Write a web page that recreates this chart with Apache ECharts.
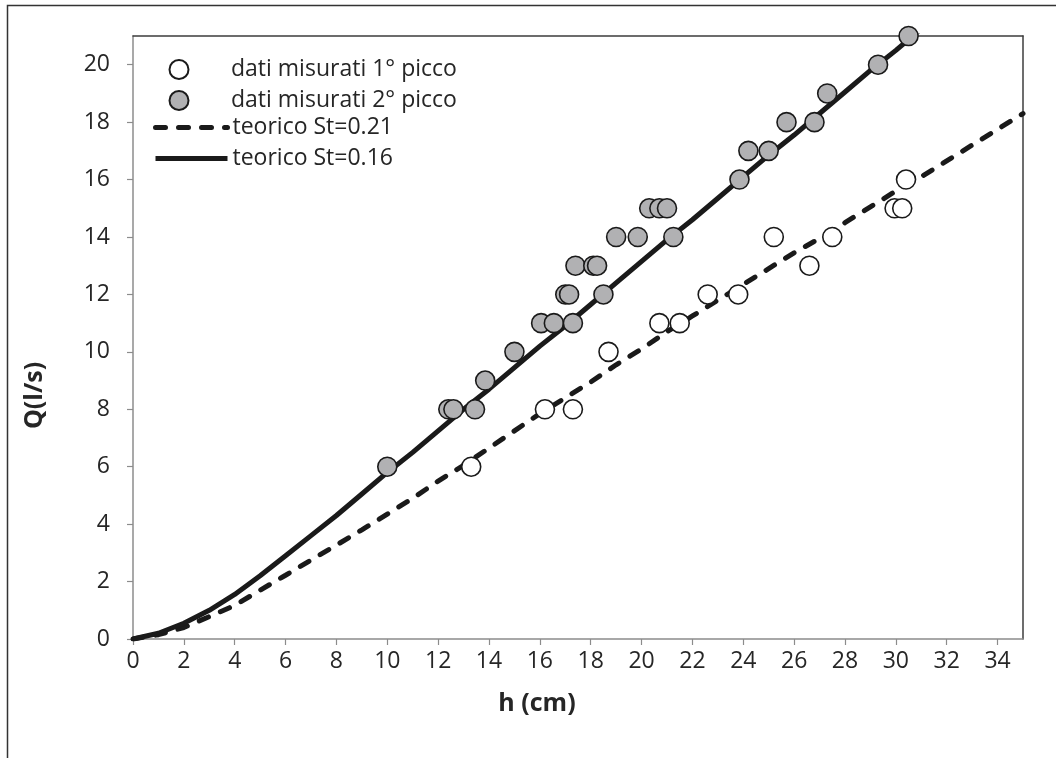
<!DOCTYPE html>
<html>
<head>
<meta charset="utf-8">
<script src="https://cdn.jsdelivr.net/npm/echarts@6/dist/echarts.min.js"></script>
<style>
  html, body { margin: 0; padding: 0; background: #ffffff; }
  #chart { width: 1056px; height: 758px; }
</style>
</head>
<body>
<div id="chart"></div>
<script>
// Measured discharge, first peak: water height h (cm) and flow Q (l/s)
const peak1H = [13.3, 16.2, 17.3, 18.7, 20.7, 21.5, 22.6, 23.8, 25.2, 26.6, 27.5, 29.95, 30.25, 30.4];
const peak1Q = [6, 8, 8, 10, 11, 11, 12, 12, 14, 13, 14, 15, 15, 16];

// Measured discharge, second peak
const peak2H = [10.0, 12.4, 12.6, 13.45, 13.85, 15.0, 16.05, 16.55, 17.3, 17.0, 17.15, 18.5, 17.4, 18.1, 18.25,
                19.0, 19.85, 21.25, 20.3, 20.7, 21.0, 23.85, 24.2, 25.0, 25.7, 26.8, 27.3, 29.3, 30.5];
const peak2Q = [6, 8, 8, 8, 9, 10, 11, 11, 11, 12, 12, 12, 13, 13, 13,
                14, 14, 14, 15, 15, 15, 16, 17, 17, 18, 18, 19, 20, 21];

// Theoretical curves sampled every centimetre
const curveH = [0, 1, 2, 3, 4, 5, 6, 7, 8, 9, 10, 11, 12, 13, 14, 15, 16, 17, 18,
                19, 20, 21, 22, 23, 24, 25, 26, 27, 28, 29, 30, 31, 32, 33, 34, 35];
const st021Q = [0, 0.15, 0.4, 0.78, 1.17, 1.7, 2.22, 2.75, 3.27, 3.8, 4.35, 4.9, 5.5, 6.05, 6.65, 7.25, 7.85, 8.4, 8.95,
                9.55, 10.1, 10.7, 11.25, 11.8, 12.35, 12.9, 13.45, 13.95, 14.5, 15.05, 15.6, 16.1, 16.65, 17.2, 17.75, 18.3];
const st016Q = [0, 0.2, 0.55, 1.0, 1.55, 2.2, 2.9, 3.6, 4.3, 5.05, 5.8, 6.5, 7.25, 8.0, 8.7, 9.45, 10.2, 10.9, 11.65,
                12.4, 13.15, 13.9, 14.6, 15.35, 16.1, 16.85, 17.55, 18.3, 19.05, 19.8, 20.5, 21.25];

// Tick positions
const xTicks = [0, 2, 4, 6, 8, 10, 12, 14, 16, 18, 20, 22, 24, 26, 28, 30, 32, 34];
const yTicks = [0, 2, 4, 6, 8, 10, 12, 14, 16, 18, 20];

const names = {
  p1: 'dati misurati 1° picco',
  p2: 'dati misurati 2° picco',
  c21: 'teorico St=0.21',
  c16: 'teorico St=0.16'
};

const pairs = (xs, ys) => ys.map((y, i) => [xs[i], y]);

const FONT = '"Open Sans"';
const TEXT = '#262626';
const AXIS_GREY = '#8c8c8c';
const FRAME = '#3c3c3c';
const INK = '#1a1a1a';

const chart = echarts.init(document.getElementById('chart'), null, { renderer: 'canvas' });

const labelStyle = { color: TEXT, fontFamily: FONT, fontSize: 23 };
const legendText = { color: TEXT, fontFamily: FONT, fontSize: 23, lineHeight: 19 };
const titleStyle = { color: TEXT, fontFamily: FONT, fontSize: 25, fontWeight: 'bold' };

chart.setOption({
  animation: false,
  backgroundColor: '#ffffff',
  textStyle: { fontFamily: FONT },
  graphic: [{
    type: 'rect',
    silent: true,
    z: -10,
    shape: { x: 7.5, y: 5.5, width: 1200, height: 900 },
    style: { fill: 'none', stroke: '#333333', lineWidth: 1.5 }
  }],
  grid: { left: 133, right: 33, top: 36, bottom: 119, containLabel: false },
  legend: [{
    // marker legend: square icon box, label pushed right to line up with the curve labels
    orient: 'vertical',
    left: 168.5, top: 58, padding: 0,
    itemWidth: 19, itemHeight: 19, itemGap: 8,
    data: [names.p1, names.p2],
    textStyle: Object.assign({ padding: [0, 0, 0, 37.5] }, legendText),
    selectedMode: false
  }, {
    orient: 'vertical',
    left: 153, top: 116, padding: 0,
    itemWidth: 72, itemHeight: 19, itemGap: 8,
    data: [names.c21, names.c16],
    textStyle: legendText,
    itemStyle: { color: 'rgba(0,0,0,0)', borderWidth: 0, opacity: 0 },
    lineStyle: { width: 5 },
    selectedMode: false
  }],
  xAxis: [{
    type: 'value',
    min: 0, max: 35, interval: 2,
    name: 'h (cm)',
    nameLocation: 'middle',
    nameGap: 52,
    nameTextStyle: Object.assign({ padding: [0, 82, 0, 0] }, titleStyle),
    axisLine: { show: true, onZero: false, lineStyle: { color: AXIS_GREY, width: 1.5 } },
    axisTick: { show: true, inside: false, length: 6, customValues: xTicks, lineStyle: { color: AXIS_GREY, width: 1.2 } },
    axisLabel: Object.assign({ margin: 11, customValues: xTicks }, labelStyle),
    splitLine: { show: false }
  }, {
    type: 'value',
    position: 'top',
    min: 0, max: 35,
    axisLine: { show: true, onZero: false, lineStyle: { color: FRAME, width: 1.5 } },
    axisTick: { show: false },
    axisLabel: { show: false },
    splitLine: { show: false }
  }],
  yAxis: [{
    type: 'value',
    min: 0, max: 21, interval: 2,
    name: 'Q(l/s)',
    nameLocation: 'middle',
    nameGap: 86,
    nameRotate: 90,
    nameTextStyle: Object.assign({ padding: [0, 116, 0, 0] }, titleStyle),
    axisLine: { show: true, onZero: false, lineStyle: { color: AXIS_GREY, width: 1.5 } },
    axisTick: { show: true, inside: false, length: 6, customValues: yTicks, lineStyle: { color: AXIS_GREY, width: 1.2 } },
    axisLabel: Object.assign({ margin: 23, customValues: yTicks }, labelStyle),
    splitLine: { show: false }
  }, {
    type: 'value',
    position: 'right',
    min: 0, max: 21,
    axisLine: { show: true, onZero: false, lineStyle: { color: FRAME, width: 1.5 } },
    axisTick: { show: false },
    axisLabel: { show: false },
    splitLine: { show: false }
  }],
  series: [{
    name: names.p1,
    type: 'scatter',
    z: 5,
    symbol: 'circle',
    symbolSize: 19,
    itemStyle: { color: '#ffffff', borderColor: INK, borderWidth: 1.6, opacity: 1 },
    data: pairs(peak1H, peak1Q)
  }, {
    name: names.p2,
    type: 'scatter',
    z: 5,
    symbol: 'circle',
    symbolSize: 19,
    itemStyle: { color: '#b1b1b3', borderColor: INK, borderWidth: 1.6, opacity: 1 },
    data: pairs(peak2H, peak2Q)
  }, {
    name: names.c21,
    type: 'line',
    z: 3,
    symbol: 'none',
    showSymbol: false,
    clip: true,
    itemStyle: { color: INK },
    lineStyle: { color: INK, width: 5, type: [10, 13], cap: 'round' },
    data: pairs(curveH, st021Q)
  }, {
    name: names.c16,
    type: 'line',
    z: 3,
    symbol: 'none',
    showSymbol: false,
    clip: true,
    itemStyle: { color: INK },
    lineStyle: { color: INK, width: 5, type: 'solid' },
    data: pairs(curveH, st016Q)
  }]
});
</script>
</body>
</html>
